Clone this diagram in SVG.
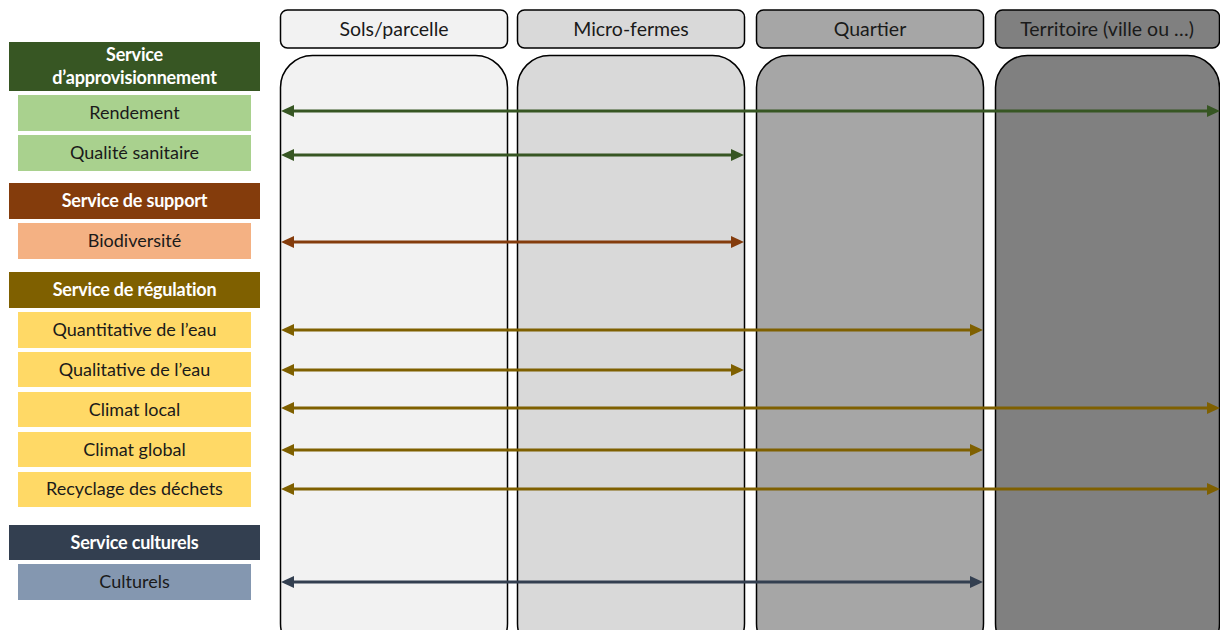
<svg xmlns="http://www.w3.org/2000/svg" width="1220" height="630" viewBox="0 0 1220 630">
<style>
text{font-family:Lato,"Open Sans","Liberation Sans",sans-serif;text-anchor:middle;dominant-baseline:central}
.hd{font-size:19.5px;fill:#1a1a1a}
.cat{font-size:18px;font-weight:bold;fill:#fff;letter-spacing:-0.2px}
.sub{font-size:18px;fill:#1a1a1a}
.col{stroke:#000;stroke-width:1.5}
.ln{stroke-width:3;fill:none}
</style>
<defs>
<marker id="mg" viewBox="0 -6 13 12" refX="0" refY="0" markerWidth="13" markerHeight="12" markerUnits="userSpaceOnUse" orient="auto-start-reverse"><path d="M0,-6L13,0L0,6z" fill="#375623"/></marker>
<marker id="mb" viewBox="0 -6 13 12" refX="0" refY="0" markerWidth="13" markerHeight="12" markerUnits="userSpaceOnUse" orient="auto-start-reverse"><path d="M0,-6L13,0L0,6z" fill="#843C0C"/></marker>
<marker id="my" viewBox="0 -6 13 12" refX="0" refY="0" markerWidth="13" markerHeight="12" markerUnits="userSpaceOnUse" orient="auto-start-reverse"><path d="M0,-6L13,0L0,6z" fill="#7F6000"/></marker>
<marker id="mc" viewBox="0 -6 13 12" refX="0" refY="0" markerWidth="13" markerHeight="12" markerUnits="userSpaceOnUse" orient="auto-start-reverse"><path d="M0,-6L13,0L0,6z" fill="#333F50"/></marker>
</defs>
<rect width="1220" height="630" fill="#fff"/>

<g id="col-sols">
<rect class="col" x="280.5" y="10" width="227" height="38" rx="7" fill="#F2F2F2"/>
<text class="hd" x="394" y="28.5">Sols/parcelle</text>
<rect class="col" x="280.5" y="55.5" width="227" height="600" rx="32" fill="#F2F2F2"/>
</g>
<g id="col-micro">
<rect class="col" x="517.5" y="10" width="227" height="38" rx="7" fill="#D9D9D9"/>
<text class="hd" x="631" y="28.5">Micro-fermes</text>
<rect class="col" x="517.5" y="55.5" width="227" height="600" rx="32" fill="#D9D9D9"/>
</g>
<g id="col-quartier">
<rect class="col" x="756.5" y="10" width="227" height="38" rx="7" fill="#A6A6A6"/>
<text class="hd" x="870" y="28.5">Quartier</text>
<rect class="col" x="756.5" y="55.5" width="227" height="600" rx="32" fill="#A6A6A6"/>
</g>
<g id="col-territoire">
<rect class="col" x="995.5" y="10" width="224" height="38" rx="7" fill="#808080"/>
<text class="hd" x="1107" y="28.5">Territoire (ville ou …)</text>
<rect class="col" x="995.5" y="55.5" width="224" height="600" rx="32" fill="#808080"/>
</g>

<g id="cat-appro">
<rect x="9" y="42" width="251" height="49" fill="#375623"/>
<text class="cat" x="134.5" y="54">Service</text>
<text class="cat" x="134.5" y="77">d’approvisionnement</text>
</g>
<g id="n-rendement"><rect x="18" y="95" width="233" height="36" fill="#A9D18E"/><text class="sub" x="134.5" y="112">Rendement</text></g>
<g id="n-qualite"><rect x="18" y="135" width="233" height="36" fill="#A9D18E"/><text class="sub" x="134.5" y="152">Qualité sanitaire</text></g>

<g id="cat-support"><rect x="9" y="183" width="251" height="36" fill="#843C0C"/><text class="cat" x="134.5" y="200">Service de support</text></g>
<g id="n-biodiv"><rect x="18" y="223" width="233" height="36" fill="#F4B183"/><text class="sub" x="134.5" y="240">Biodiversité</text></g>

<g id="cat-regulation"><rect x="9" y="272" width="251" height="36" fill="#7F6000"/><text class="cat" x="134.5" y="289">Service de régulation</text></g>
<g id="n-quanti"><rect x="18" y="312" width="233" height="36" fill="#FFD966"/><text class="sub" x="134.5" y="329">Quantitative de l’eau</text></g>
<g id="n-quali"><rect x="18" y="352" width="233" height="35" fill="#FFD966"/><text class="sub" x="134.5" y="369">Qualitative de l’eau</text></g>
<g id="n-climloc"><rect x="18" y="392" width="233" height="35" fill="#FFD966"/><text class="sub" x="134.5" y="409">Climat local</text></g>
<g id="n-climglob"><rect x="18" y="432" width="233" height="35" fill="#FFD966"/><text class="sub" x="134.5" y="449">Climat global</text></g>
<g id="n-recyc"><rect x="18" y="472" width="233" height="35" fill="#FFD966"/><text class="sub" x="134.5" y="488">Recyclage des déchets</text></g>

<g id="cat-culturels"><rect x="9" y="525" width="251" height="35" fill="#333F50"/><text class="cat" x="134.5" y="542">Service culturels</text></g>
<g id="n-culturels"><rect x="18" y="564" width="233" height="36" fill="#8497B0"/><text class="sub" x="134.5" y="581">Culturels</text></g>

<g id="connectors">
<line class="ln" x1="294" y1="111" x2="1207" y2="111" stroke="#375623" marker-start="url(#mg)" marker-end="url(#mg)"/>
<line class="ln" x1="294" y1="155" x2="731" y2="155" stroke="#375623" marker-start="url(#mg)" marker-end="url(#mg)"/>
<line class="ln" x1="294" y1="242" x2="731" y2="242" stroke="#843C0C" marker-start="url(#mb)" marker-end="url(#mb)"/>
<line class="ln" x1="294" y1="330" x2="970" y2="330" stroke="#7F6000" marker-start="url(#my)" marker-end="url(#my)"/>
<line class="ln" x1="294" y1="370" x2="731" y2="370" stroke="#7F6000" marker-start="url(#my)" marker-end="url(#my)"/>
<line class="ln" x1="294" y1="408" x2="1207" y2="408" stroke="#7F6000" marker-start="url(#my)" marker-end="url(#my)"/>
<line class="ln" x1="294" y1="450" x2="970" y2="450" stroke="#7F6000" marker-start="url(#my)" marker-end="url(#my)"/>
<line class="ln" x1="294" y1="489" x2="1207" y2="489" stroke="#7F6000" marker-start="url(#my)" marker-end="url(#my)"/>
<line class="ln" x1="294" y1="582" x2="970" y2="582" stroke="#333F50" marker-start="url(#mc)" marker-end="url(#mc)"/>
</g>
</svg>
